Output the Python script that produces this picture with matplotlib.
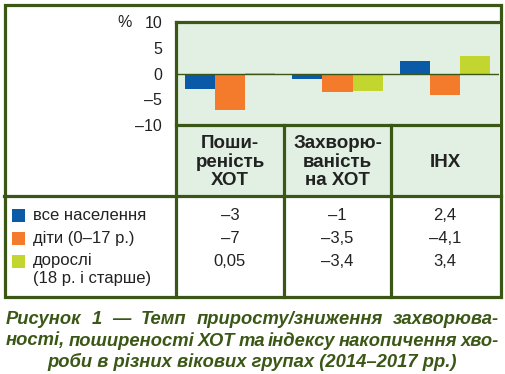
import numpy as np
import matplotlib
matplotlib.use("Agg")
import matplotlib.pyplot as plt
from matplotlib.patches import Rectangle

plt.rcParams['font.family'] = ['Liberation Sans', 'DejaVu Sans']

# data
categories = ["Поши-\nреність\nХОТ", "Захворю-\nваність\nна ХОТ", "ІНХ"]
series_names = ["все населення", "діти (0–17 р.)", "дорослі\n(18 р. і старше)"]
all_pop = [-3, -1, 2.4]
children = [-7, -3.5, -4.1]
adults = [0.05, -3.4, 3.4]
value_labels = [["–3", "–1", "2,4"], ["–7", "–3,5", "–4,1"], ["0,05", "–3,4", "3,4"]]
yticks = [-10, -5, 0, 5, 10]
ytick_labels = ["–10", "–5", "0", "5", "10"]
caption = ["Рисунок 1 — Темп приросту/зниження захворюва-",
           "ності, поширеності ХОТ та індексу накопичення хво-",
           "роби в різних вікових групах (2014–2017 рр.)"]

colors = ["#0b5aa8", "#f47b2b", "#c2d62f"]
dark = "#3b5716"
light = "#e2f0e3"

W, H = 505, 374
fig = plt.figure(figsize=(W / 100, H / 100), dpi=100)

# bar chart area
ax = fig.add_axes([176 / W, 1 - 125 / H, 323 / W, 103 / H], zorder=1)
ax.set_facecolor(light)
x = np.arange(len(categories)) + 0.5
bw = 0.28
for i, vals in enumerate([all_pop, children, adults]):
    ax.bar(x + (i - 1) * bw, vals, width=bw, color=colors[i], zorder=2)
ax.axhline(0, color=dark, lw=1, zorder=3)
ax.set_xlim(0, 3)
ax.set_ylim(-10, 10)
ax.set_xticks([])
ax.set_yticks(yticks)
ax.set_yticklabels(ytick_labels, fontsize=11.5, color="#222222")
ax.tick_params(axis='y', length=0, pad=10)
ax.set_yticks([-10, 0, 10], minor=True)
ax.tick_params(axis='y', which='minor', length=6, width=1.2, color=dark)
for s in ax.spines.values():
    s.set_visible(False)

# overlay in pixel coords for frame, table and caption
ov = fig.add_axes([0, 0, 1, 1], zorder=2)
ov.set_xlim(0, W)
ov.set_ylim(H, 0)
ov.axis('off')
ov.patch.set_alpha(0)

lw = 2.3
ov.add_patch(Rectangle((176, 125), 323, 71, facecolor=light, edgecolor='none', zorder=0))
ov.add_patch(Rectangle((4.5, 4.5), 496, 292, facecolor='none', edgecolor=dark, lw=lw, zorder=3))
ov.plot([176, 176], [22, 297], color=dark, lw=lw)
ov.plot([176, 500], [22, 22], color=dark, lw=lw)
ov.plot([176, 500], [125, 125], color=dark, lw=lw)
ov.plot([4, 501], [196, 196], color=dark, lw=lw)
for xv in [284, 391]:
    ov.plot([xv, xv], [125, 297], color=dark, lw=lw)

ov.text(125, 22, "%", fontsize=11.5, color="#222222", ha='center', va='center')

col_x = [230, 337.5, 445]
for cx, cat in zip(col_x, categories):
    ov.text(cx, 162, cat, fontsize=13.5, fontweight='bold', color="#222222",
            ha='center', va='center', multialignment='center', linespacing=1.1)

row_y = [215, 238, 261]
for i, name in enumerate(series_names):
    ov.add_patch(Rectangle((12, row_y[i] - 6.5), 13, 13, facecolor=colors[i], edgecolor='none'))
    ov.text(33, row_y[i] - 7.5, name, fontsize=12, color="#222222", ha='left', va='top',
            linespacing=1.2)
    for j, cx in enumerate(col_x):
        ov.text(cx, row_y[i], value_labels[i][j], fontsize=12, color="#222222",
                ha='center', va='center')

# caption, justified lines
fig.canvas.draw()
r = fig.canvas.get_renderer()
cap_kw = dict(fontsize=13.2, fontweight='bold', fontstyle='italic', color=dark, va='center')
cap_y = [319, 341, 362]
left, right = 6, 499
for k, line in enumerate(caption):
    if k == len(caption) - 1:
        ov.text((left + right) / 2, cap_y[k], line, ha='center', **cap_kw)
        continue
    words = line.split(" ")
    ts = [ov.text(0, cap_y[k], w, ha='left', **cap_kw) for w in words]
    widths = [t.get_window_extent(r).width for t in ts]
    gap = (right - left - sum(widths)) / (len(words) - 1)
    pos = left
    for t, w in zip(ts, widths):
        t.set_x(pos)
        pos += w + gap

fig.savefig("out.png", dpi=100)
